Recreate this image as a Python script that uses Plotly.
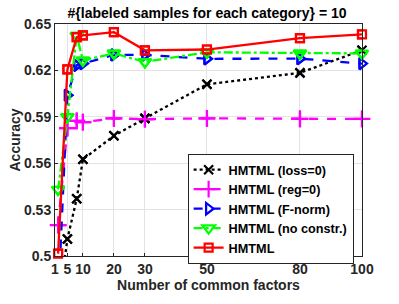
import plotly.graph_objects as go

x_vals = [2, 5, 8, 10, 20, 30, 50, 80, 100]
loss0 = [0.468, 0.511, 0.537, 0.5625, 0.5777, 0.589, 0.611, 0.6184, 0.633]
reg0 = [0.520, 0.5827, 0.5874, 0.5865, 0.589, 0.5885, 0.589, 0.5886, 0.5886]
fnorm = [0.47, 0.604, 0.6233, 0.6244, 0.630, 0.630, 0.6275, 0.6276, 0.6244]
noconstr = [0.543, 0.590, 0.6425, 0.6265, 0.631, 0.6255, 0.6317, 0.631, 0.631]
hmtml = [0.5015, 0.6206, 0.6415, 0.6426, 0.6447, 0.633, 0.6335, 0.6409, 0.6433]

x_ticks = [1, 5, 10, 20, 30, 50, 80, 100]
y_ticks = [0.5, 0.53, 0.56, 0.59, 0.62, 0.65]
y_range = [0.5, 0.65]

names = ["HMTML (loss=0)", "HMTML (reg=0)", "HMTML (F-norm)", "HMTML (no constr.)", "HMTML"]
series = [loss0, reg0, fnorm, noconstr, hmtml]
colors = ["#000000", "#ff00ff", "#0000ff", "#00ff00", "#ff0000"]
dashes = ["dot", "dash", "dash", "dashdot", "solid"]
symbols = ["x-thin", "cross-thin", "triangle-right-open", "triangle-down-open", "square-open"]
sizes = [9, 12, 10, 11, 8]

fig = go.Figure()
for n, s, c, d, sym, sz in zip(names, series, colors, dashes, symbols, sizes):
    # clipped line (legend entry)
    fig.add_trace(go.Scatter(
        x=x_vals, y=s, name=n, mode="lines+markers", legendgroup=n,
        line=dict(color=c, width=2.3, dash=d),
        marker=dict(symbol=sym, size=sz, color=c, line=dict(color=c, width=2.2)),
        cliponaxis=True,
    ))
    # unclipped markers for points inside the axis range
    mx = [xv for xv, yv in zip(x_vals, s) if y_range[0] <= yv <= y_range[1]]
    my = [yv for yv in s if y_range[0] <= yv <= y_range[1]]
    fig.add_trace(go.Scatter(
        x=mx, y=my, mode="markers", legendgroup=n, showlegend=False,
        marker=dict(symbol=sym, size=sz, color=c, line=dict(color=c, width=2.2)),
        cliponaxis=False,
    ))

fig.update_layout(
    width=399, height=304,
    margin=dict(l=55, r=37, t=24, b=48, autoexpand=False),
    paper_bgcolor="white", plot_bgcolor="white",
    font=dict(family="Liberation Sans, Arial, sans-serif", size=14, color="#262626", weight="bold"),
    title=dict(text="#{labeled samples for each category} = 10", x=0.519, xanchor="center", xref="container",
               y=0.958, yanchor="middle", font=dict(size=14, weight="bold", color="#000000"),
               automargin=False),
    showlegend=True,
    legend=dict(x=0.432, y=0.44, xanchor="left", yanchor="top",
                bgcolor="white", bordercolor="#262626", borderwidth=1,
                font=dict(size=12.7, weight="bold", color="#000000"),
                itemwidth=30, tracegroupgap=0),
    xaxis=dict(range=[1, 100], tickvals=x_ticks, ticktext=[str(t) for t in x_ticks],
               automargin=False,
               showgrid=True, gridcolor="#e3e3e3", gridwidth=1,
               showline=True, linecolor="#262626", linewidth=1, mirror=True,
               ticks="inside", ticklen=3, tickcolor="#262626",
               tickfont=dict(size=14, weight="bold", color="#262626"),
               title=dict(text="Number of common factors", standoff=4,
                          font=dict(size=14, weight="bold", color="#262626")),
               zeroline=False),
    yaxis=dict(range=y_range, tickvals=y_ticks, ticktext=["0.5", "0.53", "0.56", "0.59", "0.62", "0.65"],
               automargin=False,
               showgrid=True, gridcolor="#e3e3e3", gridwidth=1,
               showline=True, linecolor="#262626", linewidth=1, mirror=True,
               ticks="inside", ticklen=3, tickcolor="#262626",
               tickfont=dict(size=14, weight="bold", color="#262626"),
               title=dict(text="Accuracy", standoff=0,
                          font=dict(size=14, weight="bold", color="#262626")),
               zeroline=False),
)

# remove the browser's default 8px body margin so the figure fills the window
fig.write_html("out.html", config={"displayModeBar": False},
               post_script="document.body.style.margin='0px';")
